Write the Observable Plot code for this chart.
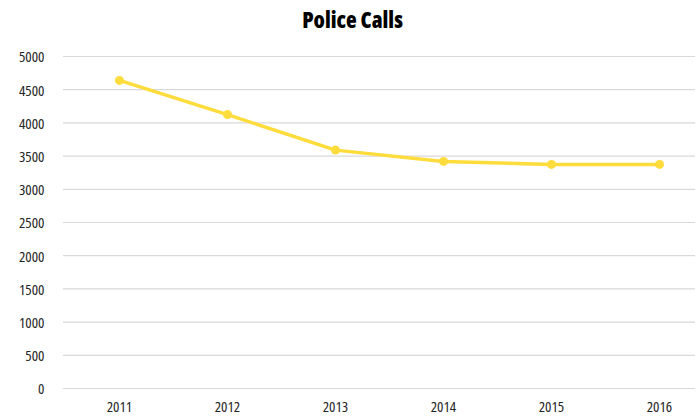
<!DOCTYPE html>
<html>
<head>
<meta charset="utf-8">
<script src="https://cdn.jsdelivr.net/npm/d3@7"></script>
<script src="https://cdn.jsdelivr.net/npm/@observablehq/plot@0.6"></script>
<style>
  body { margin: 0; background: #fff; }
  #title { height: 40px; line-height: 38px; text-align: center; font-family: "Open Sans", sans-serif; font-stretch: condensed; font-weight: 800; font-size: 22px; color: #000; width: 699px; padding-left: 6px; box-sizing: border-box; }
</style>
</head>
<body>
<div id="title">Police Calls</div>
<div id="chart"></div>
<script>
const years = ["2011", "2012", "2013", "2014", "2015", "2016"];
const calls = [4640, 4125, 3590, 3420, 3375, 3375];
const yTicks = [0, 500, 1000, 1500, 2000, 2500, 3000, 3500, 4000, 4500, 5000];

const data = years.map((year, i) => ({year, calls: calls[i]}));
const lineColor = "#FDDC3B";

const chart = Plot.plot({
  width: 699,
  height: 380,
  marginTop: 16,
  marginBottom: 32,
  marginLeft: 63,
  marginRight: 4,
  style: {fontFamily: "'Open Sans', sans-serif", fontStretch: "condensed", fontSize: "15px", fontWeight: 400, color: "#262626", background: "#fff"},
  x: {type: "point", domain: years, range: [118.3, 659], padding: 0},
  y: {domain: [0, 5000]},
  marks: [
    Plot.ruleY(yTicks, {stroke: "#d9d9d9", strokeWidth: 1.2}),
    Plot.axisX({label: null, tickSize: 0, tickPadding: 13}),
    Plot.axisY(yTicks, {label: null, tickSize: 0, tickPadding: 19, dy: 1, tickFormat: d3.format("d")}),
    Plot.line(data, {x: "year", y: "calls", stroke: lineColor, strokeWidth: 3.5}),
    Plot.dot(data, {x: "year", y: "calls", r: 4.5, fill: lineColor})
  ]
});
document.getElementById("chart").appendChild(chart);
</script>
</body>
</html>
